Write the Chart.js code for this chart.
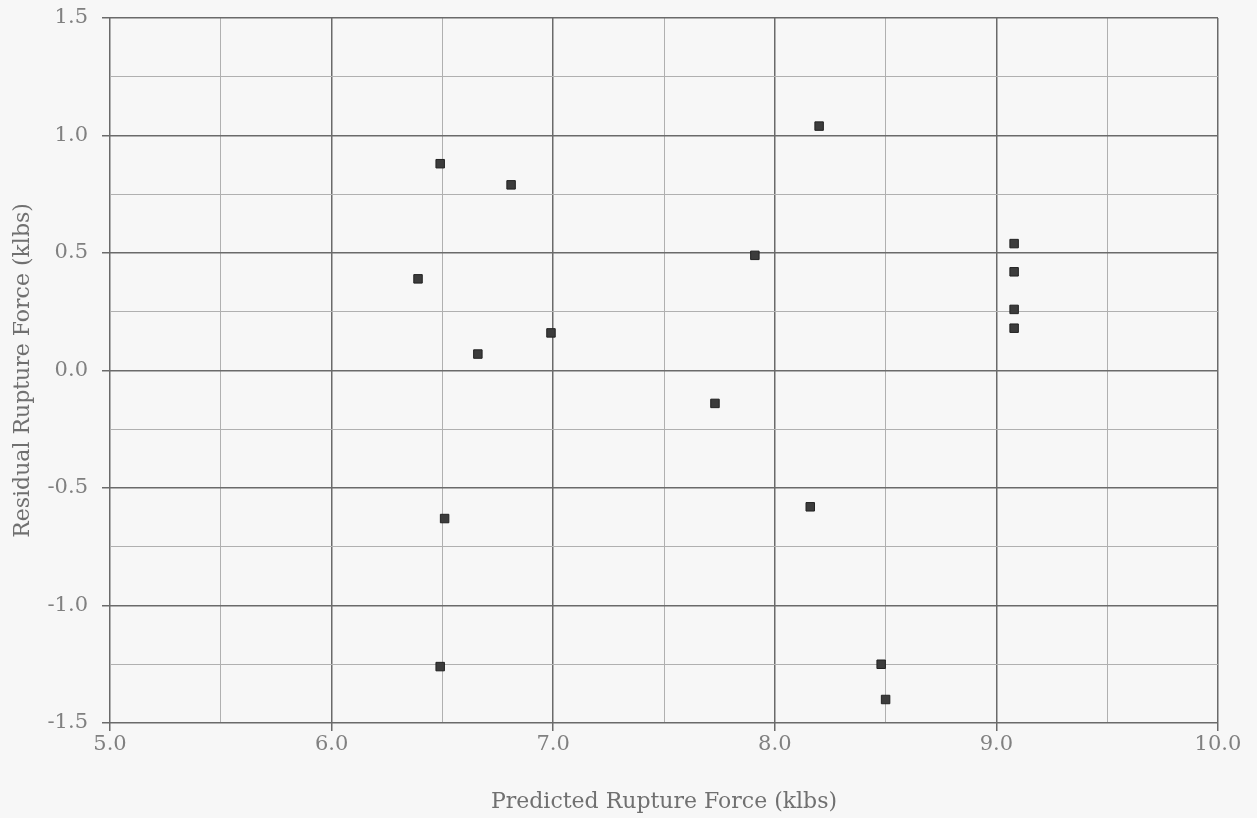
<!DOCTYPE html>
<html>
<head>
<meta charset="utf-8">
<script src="https://cdn.jsdelivr.net/npm/chart.js@4"></script>
<style>
  html, body { margin: 0; padding: 0; background: #f7f7f7; }
  #wrap { width: 1257px; height: 818px; }
</style>
</head>
<body>
<div id="wrap"><canvas id="c" width="1257" height="818"></canvas></div>
<script>
// Data
const predictedForce = [6.49, 6.81, 6.39, 6.66, 6.99, 8.20, 7.91, 7.73, 9.08, 9.08, 9.08, 9.08, 6.51, 8.16, 6.49, 8.48, 8.50];
const residualForce  = [0.88, 0.79, 0.39, 0.07, 0.16, 1.04, 0.49, -0.14, 0.54, 0.42, 0.26, 0.18, -0.63, -0.58, -1.26, -1.25, -1.40];
const xRange = [5.0, 10.0];
const yRange = [-1.5, 1.5];
const xTitle = 'Predicted Rupture Force (klbs)';
const yTitle = 'Residual Rupture Force (klbs)';

const points = predictedForce.map((x, i) => ({ x: x, y: residualForce[i] }));

const isMult = (v, m) => Math.abs(v / m - Math.round(v / m)) < 1e-9;
const FONT = "'DejaVu Serif', 'Liberation Serif', serif";

const bgPlugin = {
  id: 'bg',
  beforeDraw(chart) {
    const ctx = chart.ctx;
    ctx.save();
    ctx.fillStyle = '#f7f7f7';
    ctx.fillRect(0, 0, chart.width, chart.height);
    ctx.restore();
  }
};

new Chart(document.getElementById('c'), {
  type: 'scatter',
  data: {
    datasets: [{
      data: points,
      pointStyle: 'rect',
      pointRadius: 6,
      backgroundColor: '#3c3c3c',
      borderColor: '#222222',
      borderWidth: 1
    }]
  },
  options: {
    responsive: false,
    animation: false,
    layout: { padding: { left: 0, top: 18, right: 39, bottom: 0 } },
    plugins: { legend: { display: false }, tooltip: { enabled: false } },
    scales: {
      x: {
        type: 'linear',
        min: xRange[0], max: xRange[1],
        afterFit(scale) { scale.height = 95; scale.paddingLeft = 0; scale.paddingRight = 0; },
        border: { display: false },
        grid: {
          drawTicks: true,
          tickLength: 8,
          color: ctx => isMult(ctx.tick.value, 1) ? '#6a6a6a' : '#b0b0b0',
          lineWidth: ctx => isMult(ctx.tick.value, 1) ? 1.5 : 1,
          tickColor: ctx => isMult(ctx.tick.value, 1) ? '#6a6a6a' : 'rgba(0,0,0,0)'
        },
        ticks: {
          stepSize: 0.5,
          autoSkip: false,
          maxRotation: 0,
          padding: 1,
          color: '#808080',
          font: { family: FONT, size: 21 },
          callback: v => isMult(v, 1) ? v.toFixed(1) : ''
        },
        title: {
          display: true,
          text: xTitle,
          color: '#707070',
          font: { family: FONT, size: 22 },
          padding: { top: 0, bottom: 3 }
        }
      },
      y: {
        type: 'linear',
        min: yRange[0], max: yRange[1],
        afterFit(scale) { scale.width = 110; scale.paddingTop = 0; scale.paddingBottom = 0; },
        border: { display: false },
        grid: {
          drawTicks: true,
          tickLength: 8,
          color: ctx => isMult(ctx.tick.value, 0.5) ? '#6a6a6a' : '#b0b0b0',
          lineWidth: ctx => isMult(ctx.tick.value, 0.5) ? 1.5 : 1,
          tickColor: ctx => isMult(ctx.tick.value, 0.5) ? '#6a6a6a' : 'rgba(0,0,0,0)'
        },
        ticks: {
          stepSize: 0.25,
          autoSkip: false,
          padding: 14,
          color: '#808080',
          font: { family: FONT, size: 21 },
          callback: v => isMult(v, 0.5) ? v.toFixed(1) : ''
        },
        title: {
          display: true,
          text: yTitle,
          color: '#707070',
          font: { family: FONT, size: 22 },
          padding: { top: 10, bottom: 0 }
        }
      }
    }
  },
  plugins: [bgPlugin]
});
</script>
</body>
</html>
